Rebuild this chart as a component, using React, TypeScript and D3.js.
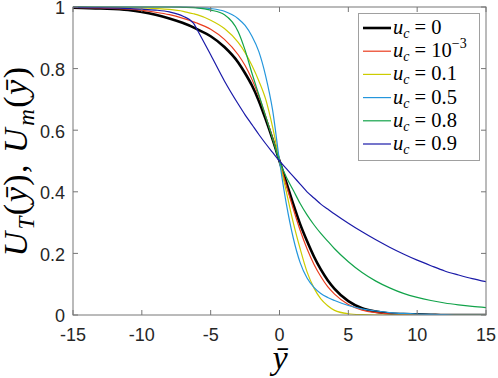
import React from "react";
import * as d3 from "d3";

// sample positions along y-bar (shared by all series)
const xs = [-15, -13, -11, -10, -9, -8, -7, -6.25, -6, -5, -4, -3, -2.5, -2, -1.5, -1, -0.5, 0, 0.5, 1, 1.5, 2, 2.5, 3, 3.5, 4, 5, 6, 7, 8, 9, 10, 11, 12, 13, 14, 15];

// u_c = 0
const u0 = [0.998, 0.995, 0.99, 0.984, 0.975, 0.963, 0.948, 0.934, 0.928, 0.905, 0.87, 0.82, 0.785, 0.745, 0.695, 0.635, 0.57, 0.5, 0.43, 0.36, 0.295, 0.24, 0.19, 0.148, 0.113, 0.085, 0.045, 0.022, 0.011, 0.005, 0.003, 0.002, 0.001, 0, 0, 0, 0];
// u_c = 1e-3
const u1e3 = [0.999, 0.997, 0.993, 0.989, 0.983, 0.975, 0.963, 0.952, 0.948, 0.928, 0.895, 0.845, 0.81, 0.765, 0.71, 0.645, 0.575, 0.5, 0.42, 0.345, 0.275, 0.215, 0.165, 0.125, 0.092, 0.068, 0.034, 0.016, 0.008, 0.004, 0.002, 0.001, 0, 0, 0, 0, 0];
// u_c = 0.1
const u01 = [1, 0.999, 0.998, 0.997, 0.995, 0.992, 0.986, 0.978, 0.975, 0.957, 0.93, 0.885, 0.852, 0.81, 0.76, 0.7, 0.61, 0.5, 0.4, 0.3, 0.215, 0.14, 0.088, 0.052, 0.03, 0.015, 0.004, 0.001, 0, 0, 0, 0, 0, 0, 0, 0, 0];
// u_c = 0.5
const u05 = [1, 1, 1, 1, 1, 1, 1, 0.999, 0.998, 0.995, 0.986, 0.962, 0.94, 0.905, 0.855, 0.775, 0.665, 0.5, 0.36, 0.25, 0.17, 0.12, 0.09, 0.07, 0.057, 0.047, 0.031, 0.02, 0.013, 0.008, 0.005, 0.003, 0.002, 0.001, 0, 0, 0];
// u_c = 0.8
const u08 = [1, 1, 1, 1, 1, 1, 0.999, 0.998, 0.997, 0.99, 0.975, 0.92, 0.86, 0.785, 0.715, 0.645, 0.572, 0.5, 0.447, 0.405, 0.362, 0.325, 0.293, 0.265, 0.24, 0.215, 0.173, 0.138, 0.11, 0.088, 0.07, 0.057, 0.047, 0.039, 0.033, 0.028, 0.024];
// u_c = 0.9
const u09 = [0.999, 0.998, 0.995, 0.993, 0.99, 0.984, 0.97, 0.948, 0.928, 0.845, 0.76, 0.685, 0.65, 0.618, 0.586, 0.556, 0.528, 0.5, 0.475, 0.45, 0.425, 0.4, 0.38, 0.36, 0.344, 0.328, 0.298, 0.27, 0.244, 0.22, 0.198, 0.178, 0.16, 0.143, 0.13, 0.118, 0.108];

const seriesValues = [u0, u1e3, u01, u05, u08, u09];
const seriesLabels = ["0", "10", "0.1", "0.5", "0.8", "0.9"];
const seriesColors = ["#000000", "#ea3c1e", "#cccc00", "#2496dc", "#12a34a", "#1a1aa8"];
const seriesWidths = [2.6, 1.2, 1.2, 1.2, 1.2, 1.2];

const xTicks = [-15, -10, -5, 0, 5, 10, 15];
const yTicks = [0, 0.2, 0.4, 0.6, 0.8, 1];

const W = 498;
const H = 378;
const plot = { left: 73, right: 486, top: 7, bottom: 315 };

export default function App() {
  const x = d3.scaleLinear().domain([-15, 15]).range([plot.left, plot.right]);
  const y = d3.scaleLinear().domain([0, 1]).range([plot.bottom, plot.top]);

  const line = d3
    .line<[number, number]>()
    .x((d) => x(d[0]))
    .y((d) => y(d[1]))
    .curve(d3.curveMonotoneX);

  const axisColor = "#767676";
  const tickLen = 5;

  return (
    <svg
      width={W}
      height={H}
      style={{ position: "absolute", left: 0, top: 0, background: "#fff" }}
    >
      <rect x={0} y={0} width={W} height={H} fill="#fff" />

      {/* curves */}
      <defs>
        <clipPath id="clip">
          <rect x={plot.left} y={plot.top - 2} width={plot.right - plot.left} height={plot.bottom - plot.top + 2} />
        </clipPath>
      </defs>
      <g clipPath="url(#clip)">
        {seriesValues.map((vals, i) => (
          <path
            key={i}
            d={line(xs.map((v, j) => [v, vals[j]] as [number, number])) || ""}
            fill="none"
            stroke={seriesColors[i]}
            strokeWidth={seriesWidths[i]}
          />
        ))}
      </g>

      {/* box + ticks */}
      <rect
        x={plot.left}
        y={plot.top}
        width={plot.right - plot.left}
        height={plot.bottom - plot.top}
        fill="none"
        stroke={axisColor}
        strokeWidth={1}
      />
      {xTicks.map((t) => (
        <g key={"x" + t}>
          <line x1={x(t)} x2={x(t)} y1={plot.bottom} y2={plot.bottom - tickLen} stroke={axisColor} />
          <line x1={x(t)} x2={x(t)} y1={plot.top} y2={plot.top + tickLen} stroke={axisColor} />
          <text
            x={x(t)}
            y={341}
            textAnchor="middle"
            fontFamily="Liberation Sans, Arial, sans-serif"
            fontSize={18}
            fill="#262626"
          >
            {t}
          </text>
        </g>
      ))}
      {yTicks.map((t) => (
        <g key={"y" + t}>
          <line x1={plot.left} x2={plot.left + tickLen} y1={y(t)} y2={y(t)} stroke={axisColor} />
          <line x1={plot.right} x2={plot.right - tickLen} y1={y(t)} y2={y(t)} stroke={axisColor} />
          <text
            x={65}
            y={y(t) + 1}
            dy="0.35em"
            textAnchor="end"
            fontFamily="Liberation Sans, Arial, sans-serif"
            fontSize={18}
            fill="#262626"
          >
            {t}
          </text>
        </g>
      ))}

      {/* axis labels */}
      <text
        x={280}
        y={369}
        textAnchor="middle"
        fontFamily="Liberation Serif, serif"
        fontStyle="italic"
        fontSize={34}
        fill="#000"
      >
        ȳ
      </text>
      <text
        transform="translate(27,161) rotate(-90)"
        textAnchor="middle"
        fontFamily="Liberation Serif, serif"
        fontSize={34}
        letterSpacing={1.5}
        fill="#000"
      >
        <tspan fontStyle="italic">U</tspan>
        <tspan fontStyle="italic" fontSize={23} dx={1} dy={7}>T</tspan>
        <tspan dy={-7}>(</tspan>
        <tspan fontStyle="italic">ȳ</tspan>
        <tspan>), </tspan>
        <tspan fontStyle="italic">U</tspan>
        <tspan fontStyle="italic" fontSize={23} dx={1} dy={7}>m</tspan>
        <tspan dy={-7}>(</tspan>
        <tspan fontStyle="italic">ȳ</tspan>
        <tspan>)</tspan>
      </text>

      {/* legend */}
      <g>
        <rect x={358.5} y={13.5} width={121} height={147} fill="#fff" stroke="#a0a0a0" strokeWidth={1} />
        {seriesLabels.map((lab, i) => {
          const cy = 28 + i * 23.2;
          return (
            <g key={"l" + i}>
              <line x1={363} x2={391} y1={cy} y2={cy} stroke={seriesColors[i]} strokeWidth={seriesWidths[i]} />
              <text
                x={393}
                y={cy + 6}
                fontFamily="Liberation Serif, serif"
                fontSize={20.5}
                fill="#000"
              >
                <tspan fontStyle="italic">u</tspan>
                <tspan fontStyle="italic" fontSize={14} dy={4}>c</tspan>
                <tspan dy={-4}>{" = " + lab}</tspan>
                {i === 1 ? (
                  <tspan fontSize={14} dy={-9}>
                    −3
                  </tspan>
                ) : null}
              </text>
            </g>
          );
        })}
      </g>
    </svg>
  );
}
